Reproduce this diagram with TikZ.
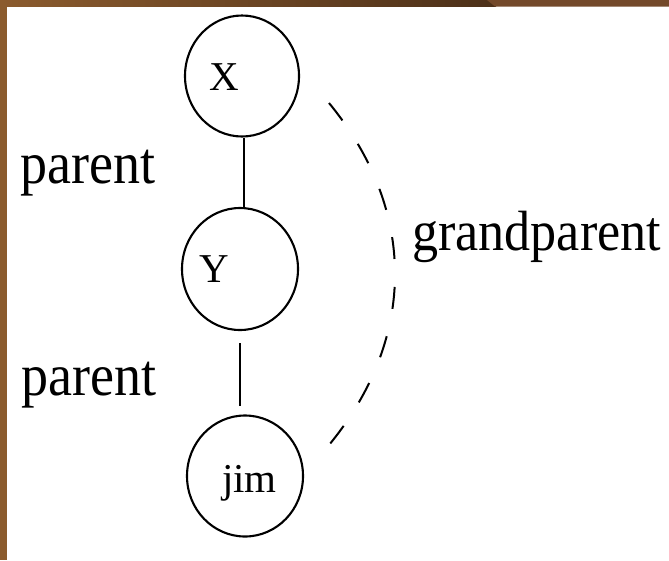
\documentclass[tikz,border=0pt]{standalone}
\usepackage{fontspec}
\setmainfont{Liberation Serif}
\usetikzlibrary{shapes.geometric}
\definecolor{frameA}{HTML}{8B5B2E}
\definecolor{frameB}{HTML}{4C3019}
\definecolor{frameC}{HTML}{73492A}
\begin{document}
\begin{tikzpicture}[x=1pt,y=-1pt,
  oval/.style={draw=black,line width=2.1pt,ellipse,inner sep=0pt,minimum width=#1},
  bigtext/.style={font=\fontsize{54}{60}\selectfont,inner sep=0pt,anchor=base west},
  smalltext/.style={font=\fontsize{41}{46}\selectfont,inner sep=0pt,anchor=base west},
  link/.style={line width=2pt},
  dlink/.style={line width=2pt,dash pattern=on 22pt off 28pt}]
\useasboundingbox (0,0) rectangle (669,560);
\fill[white] (0,0) rectangle (669,560);
% frame
\fill[frameA] (0,0) rectangle (7,560);
\shade[left color=frameA,right color=frameB] (0,0) rectangle (496,6.5);
\fill[frameC] (487,0) -- (669,0) -- (669,6.5) -- (495,6.5) -- cycle;
% nodes
\node[oval=114pt,minimum height=121pt] (X) at (242,76) {};
\node[oval=116pt,minimum height=122pt] (Y) at (240,269) {};
\node[oval=116pt,minimum height=121pt] (jim) at (245,476) {};
\node[smalltext] (xl) at (209,90) {X};
\node[smalltext] (yl) at (199,282) {Y};
\node[smalltext] (jl) at (222,492) {jim};
\node[bigtext] (p1) at (20,183) {\scalebox{1}[1.1]{parent}};
\node[bigtext] (p2) at (21,395) {\scalebox{1}[1.1]{parent}};
\node[bigtext] (gp) at (412,250) {\scalebox{0.965}[1.05]{grandparent}};
% connectors
\coordinate (xs) at ([xshift=2pt]X.south);
\coordinate (ys) at ([yshift=-12pt]Y.south);
\coordinate (jn) at ([yshift=8pt]jim.north);
\draw[link] (xs) -- (xs |- Y.north);
\draw[link] (ys) -- (ys |- jn);
\coordinate (gs) at (329,103);
\coordinate (ge) at (329,445);
\draw[dlink] (gs) .. controls (417,210) and (417,338) .. (ge);
\end{tikzpicture}
\end{document}
